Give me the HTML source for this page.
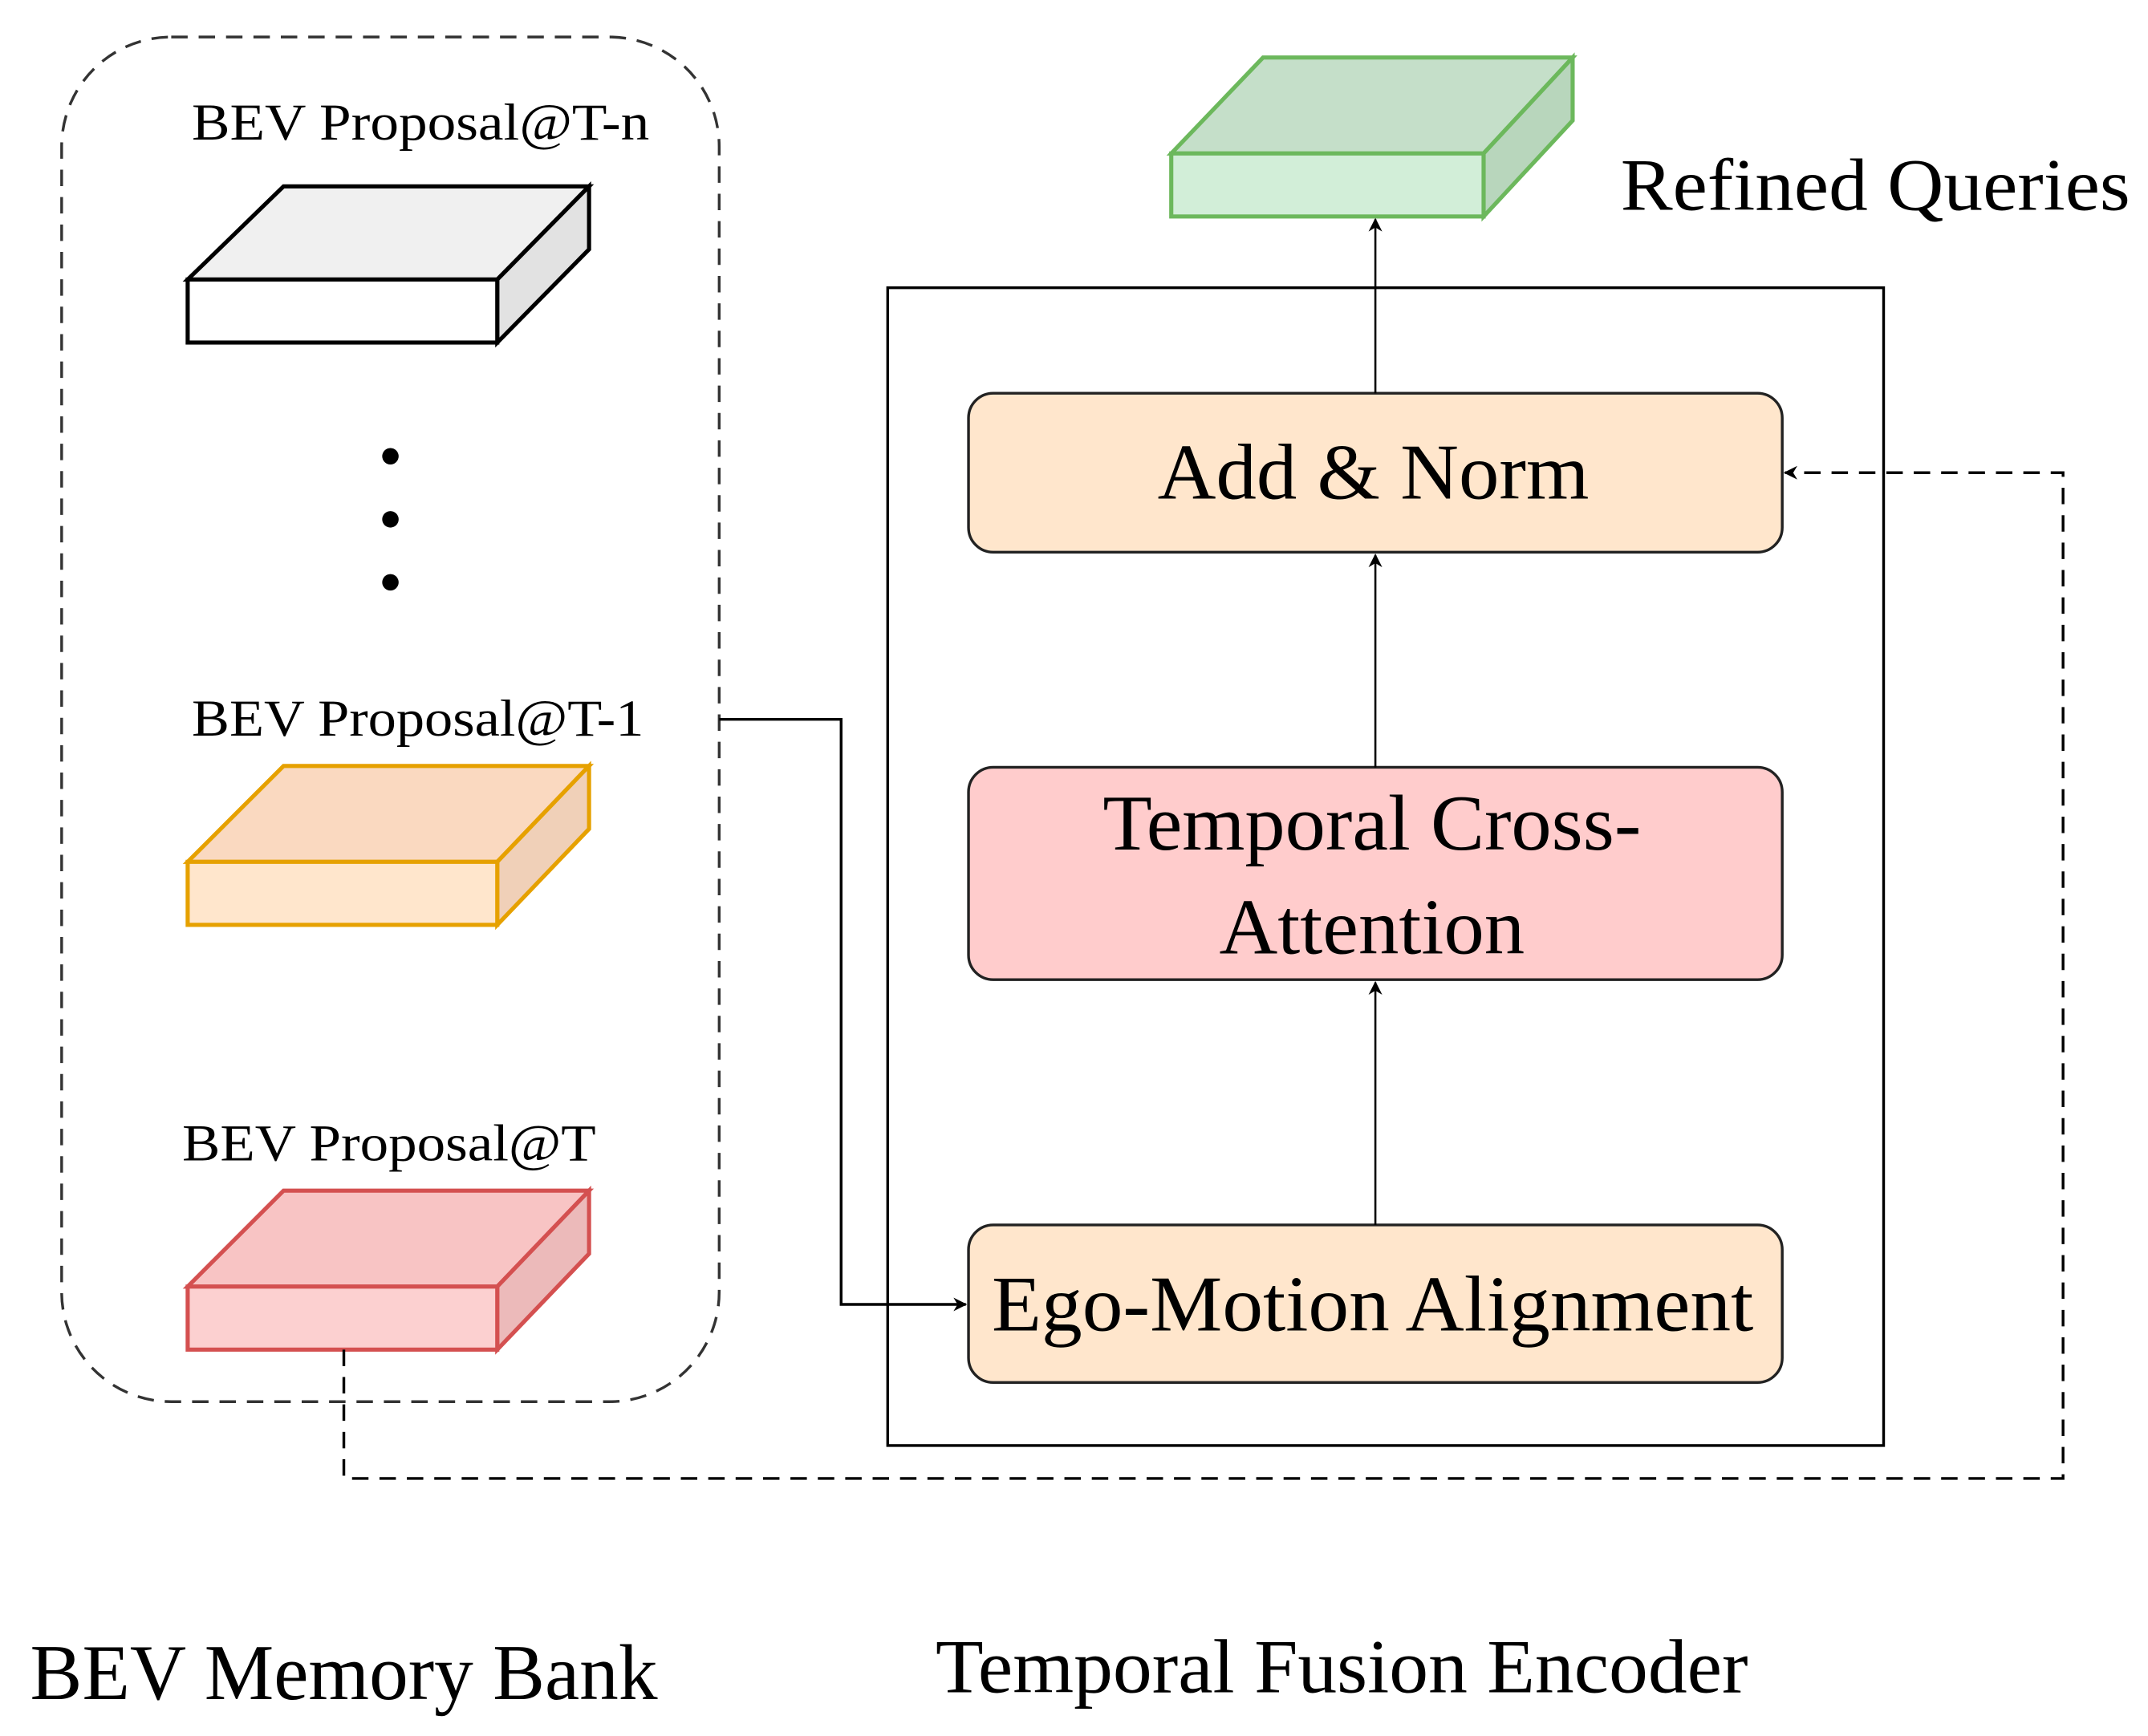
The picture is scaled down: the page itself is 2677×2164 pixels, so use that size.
<!DOCTYPE html>
<html><head><meta charset="utf-8"><style>
html,body{margin:0;padding:0;background:#fff;}
svg{display:block;}
text{font-family:"Liberation Serif",serif;fill:#000;}
</style></head><body>
<svg width="2677" height="2164" viewBox="0 0 1568 1267" preserveAspectRatio="none" xmlns="http://www.w3.org/2000/svg">
<defs>
<marker id="ah" markerWidth="10" markerHeight="10" refX="9" refY="5" orient="auto" markerUnits="userSpaceOnUse">
<path d="M0,0 L10,5 L0,10 L3,5 Z" fill="#000"/>
</marker>
</defs>
<rect x="45" y="27" width="480" height="996" rx="80" fill="none" stroke="#333" stroke-width="2" stroke-dasharray="12,8"/>
<text x="140" y="102" font-size="38" textLength="334" lengthAdjust="spacingAndGlyphs">BEV Proposal@T-n</text>
<polygon points="137,204 207,136 430,136 363,204" fill="#f0f0f0" stroke="#000" stroke-width="3"/>
<polygon points="363,204 430,136 430,182 363,250" fill="#e2e2e2" stroke="#000" stroke-width="3"/>
<rect x="137" y="204" width="226" height="46" fill="#fff" stroke="#000" stroke-width="3"/>
<circle cx="285" cy="333" r="6"/><circle cx="285" cy="379" r="6"/><circle cx="285" cy="425" r="6"/>
<text x="140" y="537" font-size="38" textLength="330" lengthAdjust="spacingAndGlyphs">BEV Proposal@T-1</text>
<polygon points="137,629 207,559 430,559 363,629" fill="#fad9c0" stroke="#e6a100" stroke-width="3"/>
<polygon points="363,629 430,559 430,605 363,675" fill="#f0d0b8" stroke="#e6a100" stroke-width="3"/>
<rect x="137" y="629" width="226" height="46" fill="#ffe6cc" stroke="#e6a100" stroke-width="3"/>
<text x="133" y="847" font-size="38" textLength="302" lengthAdjust="spacingAndGlyphs">BEV Proposal@T</text>
<polygon points="137,939 207,869 430,869 363,939" fill="#f8c4c4" stroke="#d45050" stroke-width="3"/>
<polygon points="363,939 430,869 430,915 363,985" fill="#ecbaba" stroke="#d45050" stroke-width="3"/>
<rect x="137" y="939" width="226" height="46" fill="#fcd0d0" stroke="#d45050" stroke-width="3"/>
<polygon points="855,112 922,42 1148,42 1083,112" fill="#c5dfc9" stroke="#6cb85c" stroke-width="3"/>
<polygon points="1083,112 1148,42 1148,88 1083,158" fill="#b8d6bc" stroke="#6cb85c" stroke-width="3"/>
<rect x="855" y="112" width="228" height="46" fill="#d2eed8" stroke="#6cb85c" stroke-width="3"/>
<text x="1183" y="153" font-size="54" textLength="372" lengthAdjust="spacingAndGlyphs">Refined Queries</text>
<rect x="648" y="210" width="727" height="845" fill="none" stroke="#000" stroke-width="2"/>
<rect x="707" y="287" width="594" height="116" rx="18" fill="#ffe6cc" stroke="#222" stroke-width="2"/>
<text x="845" y="364" font-size="58" textLength="315" lengthAdjust="spacingAndGlyphs">Add &amp; Norm</text>
<rect x="707" y="560" width="594" height="155" rx="18" fill="#ffcccc" stroke="#222" stroke-width="2"/>
<text x="805" y="620" font-size="58" textLength="393" lengthAdjust="spacingAndGlyphs">Temporal Cross-</text>
<text x="890" y="696" font-size="58" textLength="223" lengthAdjust="spacingAndGlyphs">Attention</text>
<rect x="707" y="894" width="594" height="115" rx="18" fill="#ffe6cc" stroke="#222" stroke-width="2"/>
<text x="724" y="971" font-size="58" textLength="556" lengthAdjust="spacingAndGlyphs">Ego-Motion Alignment</text>
<line x1="1004" y1="894" x2="1004" y2="717" stroke="#000" stroke-width="1.5" marker-end="url(#ah)"/>
<line x1="1004" y1="560" x2="1004" y2="405" stroke="#000" stroke-width="1.5" marker-end="url(#ah)"/>
<line x1="1004" y1="287" x2="1004" y2="160" stroke="#000" stroke-width="1.5" marker-end="url(#ah)"/>
<polyline points="525,525 614,525 614,952 705,952" fill="none" stroke="#000" stroke-width="2" marker-end="url(#ah)"/>
<polyline points="251,985 251,1079 1506,1079 1506,345 1303,345" fill="none" stroke="#000" stroke-width="2" stroke-dasharray="12,8" marker-end="url(#ah)"/>
<text x="22" y="1240" font-size="58" textLength="458" lengthAdjust="spacingAndGlyphs">BEV Memory Bank</text>
<text x="683" y="1235" font-size="56" textLength="593" lengthAdjust="spacingAndGlyphs">Temporal Fusion Encoder</text>
</svg>
</body></html>
